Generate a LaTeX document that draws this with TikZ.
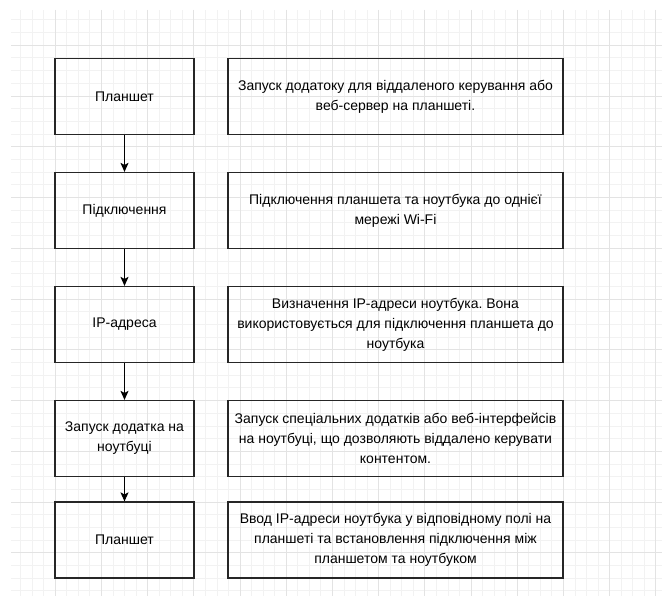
\documentclass[tikz,border=0pt]{standalone}
\usepackage{fontspec}
\setmainfont{Liberation Sans}
\usetikzlibrary{arrows.meta}
\frenchspacing

\begin{document}
\begin{tikzpicture}[x=1pt,y=-1pt,>={Stealth[length=9pt,width=8pt,inset=2pt]},
leftbox/.style={draw=black!85,line width=1.2pt,minimum width=139pt,minimum height=76pt,
  align=center,font=\fontsize{14}{20}\selectfont},
textbox/.style={leftbox,minimum width=335pt}]
\useasboundingbox(0,0)rectangle(662,596);
% grid
\foreach \i in {-3,...,52} \draw[gray!10](55+\i*11.55,10)--(55+\i*11.55,596);
\foreach \k in {-2,...,43} \draw[gray!10](11,45+\k*12.69)--(662,45+\k*12.69);
\foreach \i in {0,4,...,52} \draw[gray!22](55+\i*11.55,10)--(55+\i*11.55,596);
\foreach \k in {0,4,...,40} \draw[gray!22](11,45+\k*12.69)--(662,45+\k*12.69);
% steps
\node[leftbox](tab1)at(124.5,96.5){Планшет};
\node[leftbox](conn)at(124.5,210.5){Підключення};
\node[leftbox](ip)at(124.5,324.5){IP-адреса};
\node[leftbox](app)at(124.5,438.5){Запуск додатка на\\ноутбуці};
\node[leftbox](tab2)at(124.5,540){Планшет};
% descriptions
\node[textbox](tab1d)at(395.5,96.5){Запуск додатоку для віддаленого керування або\\веб-сервер на планшеті.};
\node[textbox](connd)at(395.5,210.5){Підключення планшета та ноутбука до однієї\\мережі Wi-Fi};
\node[textbox](ipd)at(395.5,324.5){Визначення IP-адреси ноутбука. Вона\\використовується для підключення планшета до\\ноутбука};
\node[textbox](appd)at(395.5,438.5){Запуск спеціальних додатків або веб-інтерфейсів\\на ноутбуці, що дозволяють віддалено керувати\\контентом.};
\node[textbox](tab2d)at(395.5,540){Ввод IP-адреси ноутбука у відповідному полі на\\планшеті та встановлення підключення між\\планшетом та ноутбуком};
% arrows
\draw[->,line width=1pt](tab1)--(conn);
\draw[->,line width=1pt](conn)--(ip);
\draw[->,line width=1pt](ip)--(app);
\draw[->,line width=1pt](app)--(tab2);
\end{tikzpicture}
\end{document}
